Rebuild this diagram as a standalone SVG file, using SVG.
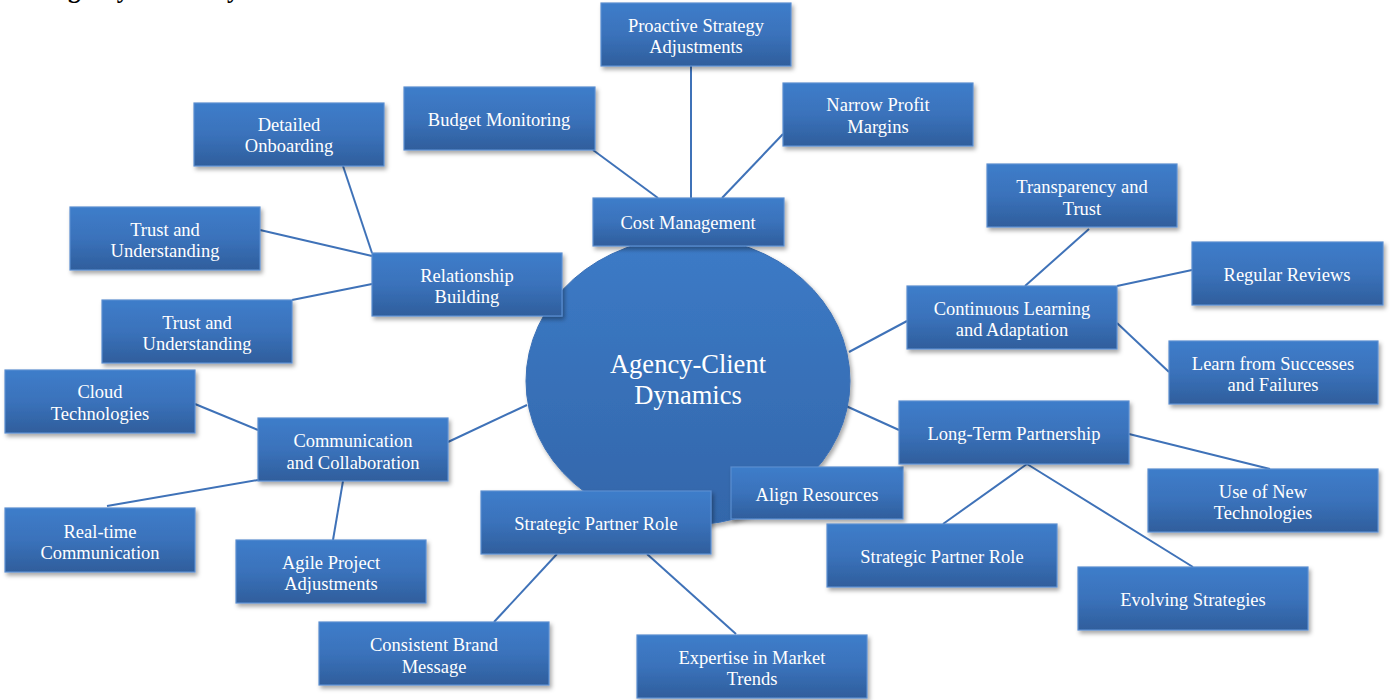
<svg xmlns="http://www.w3.org/2000/svg" width="1390" height="700" viewBox="0 0 1390 700">
<defs>
<linearGradient id="boxg" x1="0" y1="0" x2="0" y2="1">
<stop offset="0" stop-color="#3e7dca"/>
<stop offset="0.5" stop-color="#3a72bb"/>
<stop offset="1" stop-color="#2f5e9c"/>
</linearGradient>
<linearGradient id="circg" x1="0" y1="0" x2="0" y2="1">
<stop offset="0" stop-color="#3c7bc7"/>
<stop offset="1" stop-color="#3366aa"/>
</linearGradient>
<filter id="sh" x="-10%" y="-10%" width="125%" height="130%">
<feDropShadow dx="2" dy="3" stdDeviation="2" flood-color="#000" flood-opacity="0.35"/>
</filter>
</defs>
<style>
.box{fill:url(#boxg);stroke:#5b8ed0;stroke-width:1.2;filter:url(#sh)}
.t{font-family:"Liberation Serif","Times New Roman",serif;font-size:18.5px;fill:#fff;text-anchor:middle}
.ct{font-family:"Liberation Serif","Times New Roman",serif;font-size:26.5px;fill:#fff;text-anchor:middle}
.title{font-family:"Liberation Serif","Times New Roman",serif;font-size:25px;font-weight:bold;fill:#000}
#connectors line{stroke:#3f72b8;stroke-width:2}
</style>
<rect width="1390" height="700" fill="#fff"/>
<text class="title" x="50" y="-2">Agency-Client Dynamics</text>
<g id="connectors">
<line x1="593" y1="150" x2="658" y2="198"/>
<line x1="691" y1="66" x2="691" y2="198"/>
<line x1="783" y1="134" x2="722" y2="198"/>
<line x1="343" y1="166" x2="372" y2="253"/>
<line x1="260" y1="230" x2="372" y2="256"/>
<line x1="292" y1="300" x2="372" y2="284"/>
<line x1="195" y1="404" x2="258" y2="430"/>
<line x1="107" y1="506" x2="258" y2="480"/>
<line x1="333" y1="540" x2="343" y2="481"/>
<line x1="448" y1="442" x2="527" y2="405"/>
<line x1="557" y1="554" x2="494" y2="622"/>
<line x1="647" y1="554" x2="736" y2="634"/>
<line x1="849" y1="352" x2="907" y2="321"/>
<line x1="1025" y1="286" x2="1089" y2="229"/>
<line x1="1117" y1="286" x2="1192" y2="270"/>
<line x1="1117" y1="323" x2="1169" y2="372"/>
<line x1="846" y1="406" x2="899" y2="430"/>
<line x1="1129" y1="434" x2="1270" y2="469"/>
<line x1="1027" y1="464" x2="943" y2="524"/>
<line x1="1027" y1="464" x2="1193" y2="567"/>
</g>
<g id="center">
<ellipse cx="688" cy="381" rx="162" ry="144" fill="url(#circg)" stroke="#3a6fb5" stroke-width="1" filter="url(#sh)"/>
<text class="ct" x="688" y="373">Agency-Client</text>
<text class="ct" x="688" y="404">Dynamics</text>
</g>
<g id="proactive"><rect class="box" x="601" y="3" width="190" height="63"/><text class="t" x="696" y="32">Proactive Strategy</text><text class="t" x="696" y="53">Adjustments</text></g>
<g id="budget"><rect class="box" x="404" y="87" width="191" height="63"/><text class="t" x="499" y="126">Budget Monitoring</text></g>
<g id="narrow"><rect class="box" x="783" y="83" width="190" height="63"/><text class="t" x="878" y="111">Narrow Profit</text><text class="t" x="878" y="133">Margins</text></g>
<g id="cost"><rect class="box" x="593" y="198" width="191" height="48"/><text class="t" x="688" y="229">Cost Management</text></g>
<g id="onboarding"><rect class="box" x="194" y="103" width="190" height="63"/><text class="t" x="289" y="131">Detailed</text><text class="t" x="289" y="152">Onboarding</text></g>
<g id="trust1"><rect class="box" x="70" y="207" width="190" height="63"/><text class="t" x="165" y="236">Trust and</text><text class="t" x="165" y="257">Understanding</text></g>
<g id="relationship"><rect class="box" x="372" y="253" width="190" height="63"/><text class="t" x="467" y="282">Relationship</text><text class="t" x="467" y="303">Building</text></g>
<g id="trust2"><rect class="box" x="102" y="300" width="190" height="63"/><text class="t" x="197" y="329">Trust and</text><text class="t" x="197" y="350">Understanding</text></g>
<g id="cloud"><rect class="box" x="5" y="370" width="190" height="63"/><text class="t" x="100" y="398">Cloud</text><text class="t" x="100" y="420">Technologies</text></g>
<g id="communication"><rect class="box" x="258" y="418" width="190" height="63"/><text class="t" x="353" y="447">Communication</text><text class="t" x="353" y="469">and Collaboration</text></g>
<g id="realtime"><rect class="box" x="5" y="508" width="190" height="64"/><text class="t" x="100" y="538">Real-time</text><text class="t" x="100" y="559">Communication</text></g>
<g id="agile"><rect class="box" x="236" y="540" width="190" height="63"/><text class="t" x="331" y="569">Agile Project</text><text class="t" x="331" y="590">Adjustments</text></g>
<g id="strategic-left"><rect class="box" x="481" y="491" width="230" height="63"/><text class="t" x="596" y="530">Strategic Partner Role</text></g>
<g id="brand"><rect class="box" x="319" y="622" width="230" height="63"/><text class="t" x="434" y="651">Consistent Brand</text><text class="t" x="434" y="673">Message</text></g>
<g id="expertise"><rect class="box" x="637" y="635" width="230" height="63"/><text class="t" x="752" y="664">Expertise in Market</text><text class="t" x="752" y="685">Trends</text></g>
<g id="align"><rect class="box" x="731" y="467" width="172" height="52"/><text class="t" x="817" y="501">Align Resources</text></g>
<g id="longterm"><rect class="box" x="899" y="401" width="230" height="63"/><text class="t" x="1014" y="440">Long-Term Partnership</text></g>
<g id="strategic-right"><rect class="box" x="827" y="524" width="230" height="63"/><text class="t" x="942" y="563">Strategic Partner Role</text></g>
<g id="newtech"><rect class="box" x="1148" y="469" width="230" height="63"/><text class="t" x="1263" y="498">Use of New</text><text class="t" x="1263" y="519">Technologies</text></g>
<g id="evolving"><rect class="box" x="1078" y="567" width="230" height="63"/><text class="t" x="1193" y="606">Evolving Strategies</text></g>
<g id="continuous"><rect class="box" x="907" y="286" width="210" height="63"/><text class="t" x="1012" y="315">Continuous Learning</text><text class="t" x="1012" y="336">and Adaptation</text></g>
<g id="transparency"><rect class="box" x="987" y="164" width="190" height="63"/><text class="t" x="1082" y="193">Transparency and</text><text class="t" x="1082" y="215">Trust</text></g>
<g id="reviews"><rect class="box" x="1192" y="242" width="191" height="63"/><text class="t" x="1287" y="281">Regular Reviews</text></g>
<g id="learn"><rect class="box" x="1169" y="341" width="209" height="63"/><text class="t" x="1273" y="370">Learn from Successes</text><text class="t" x="1273" y="391">and Failures</text></g>
</svg>
